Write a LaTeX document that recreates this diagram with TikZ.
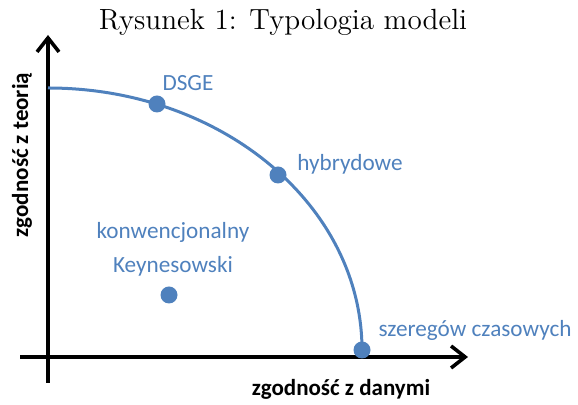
\documentclass[tikz,border=0pt]{standalone}
\usepackage{fontspec}
\setsansfont{Carlito}
\usetikzlibrary{arrows.meta}
\definecolor{modelblue}{HTML}{4F81BD}
\begin{document}
\begin{tikzpicture}[x=0.5pt, y=0.5pt, every node/.style={font=\sffamily}]
  \tikzstyle{axis}=[line width=1.8pt,-{Straight Barb[length=7pt,width=11pt,line width=1.8pt]}]
  \tikzstyle{dot}=[circle,fill=modelblue,inner sep=0pt,minimum size=8.5pt]
  \tikzstyle{lbl}=[text=modelblue,font=\sffamily\fontsize{11.6}{13}\selectfont]
  \tikzstyle{axlbl}=[font=\sffamily\bfseries\fontsize{11.5}{13}\selectfont]
  \useasboundingbox (0,0) rectangle (578,405);
  \node[font=\rmfamily\fontsize{14.6}{16}\selectfont] (title) at (283,383) {Rysunek 1: Typologia modeli};
  % osie
  \coordinate (ybot) at (48,22);
  \coordinate (ytop) at (48,370);
  \coordinate (xleft) at (20,48);
  \coordinate (xright) at (468,48);
  \draw[axis] (ybot) -- (ytop);
  \draw[axis] (xleft) -- (xright);
  \node[axlbl] (xlab) at (341,16) {zgodność z danymi};
  \node[axlbl,rotate=90] (ylab) at (22,250) {zgodność z teorią};
  % krzywa
  \coordinate (cstart) at (48,317);
  \draw[modelblue,line width=1.5pt] (cstart) arc[start angle=90,end angle=0,x radius=314,y radius=262];
  % modele
  \node[dot] (dsge) at (157,301) {};
  \node[dot] (hybr) at (278,230) {};
  \node[dot] (konw) at (169,110) {};
  \node[dot] (szer) at (362,55) {};
  \node[lbl] (dsgelab) at (188,322) {DSGE};
  \node[lbl] (hybrlab) at (350,241) {hybrydowe};
  \node[lbl] (konwlab) at (173,173) {konwencjonalny};
  \node[lbl] (keyn) at (173,139) {Keynesowski};
  \node[lbl] (szerlab) at (475,75) {szeregów czasowych};
\end{tikzpicture}
\end{document}
